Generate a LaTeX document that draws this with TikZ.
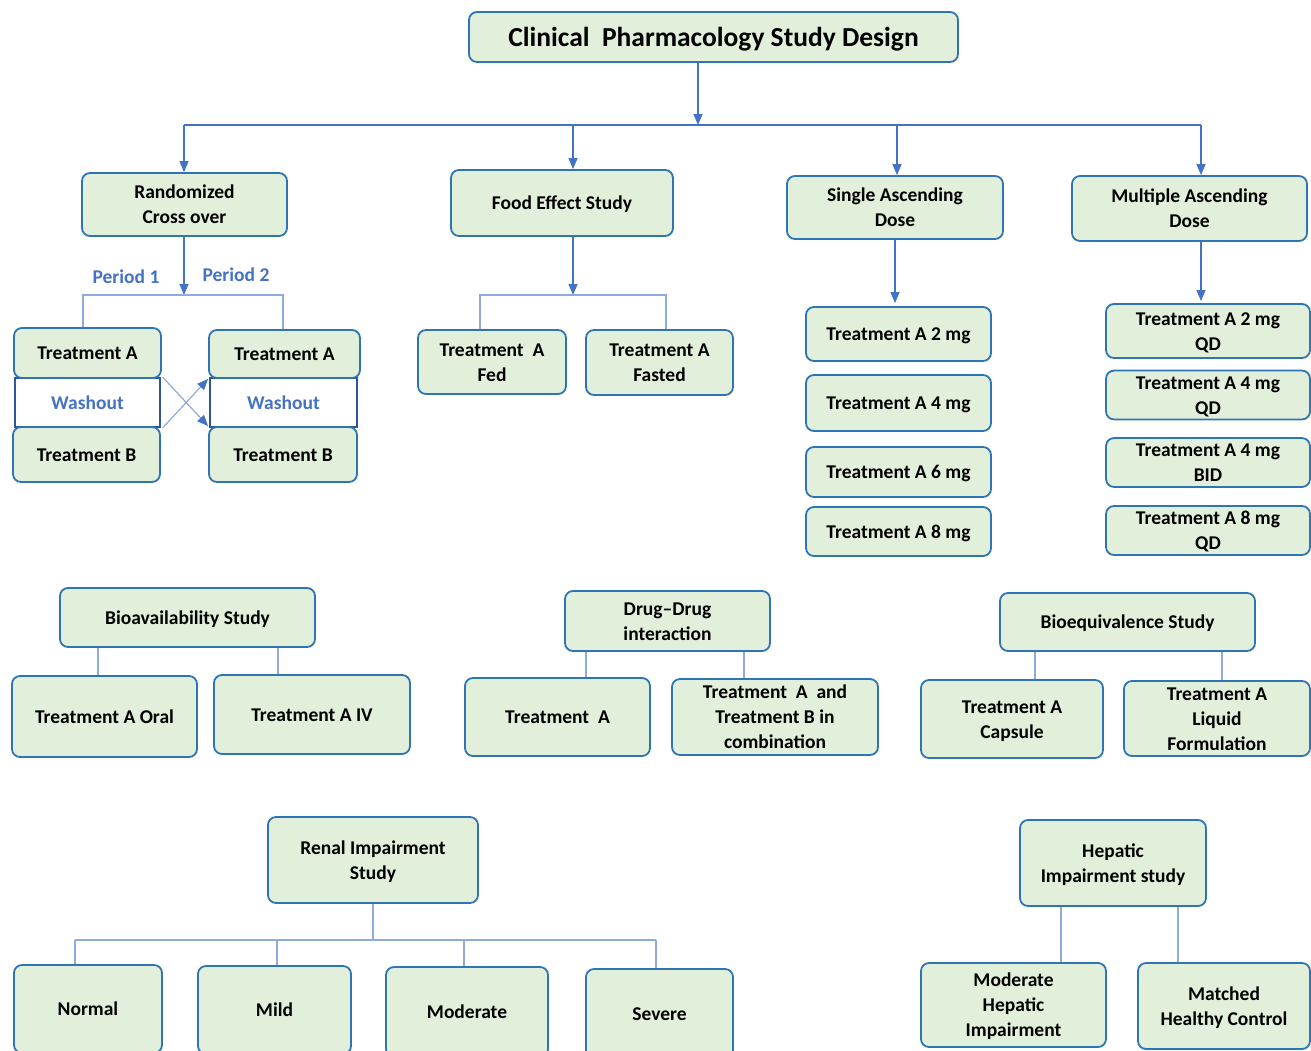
\documentclass[tikz,border=0pt]{standalone}
\usepackage{fontspec}
\setmainfont{Carlito}
\usetikzlibrary{arrows.meta,calc}
\definecolor{boxfill}{HTML}{E2EFDA}
\definecolor{boxline}{HTML}{2E75B6}
\definecolor{conn}{HTML}{4472C4}
\definecolor{connlight}{HTML}{8FAADC}
\definecolor{washline}{HTML}{2F5597}
\newcommand\offstrut{\rule[-5.25bp]{0pt}{23.85bp}}
\newcommand\offstrutT{\rule[-7.4bp]{0pt}{33.6bp}}
\tikzset{
 box/.style={draw=boxline, line width=1.8bp, fill=boxfill, rounded corners=8bp, align=center,
   font=\bfseries\fontsize{19.5bp}{25bp}\selectfont, inner sep=0pt},
 titlebox/.style={box, font=\bfseries\fontsize{27.5bp}{32bp}\selectfont},
 wash/.style={draw=washline, line width=1.5bp, fill=white, text=conn,
   font=\bfseries\fontsize{19.5bp}{25bp}\selectfont, inner sep=0pt},
 plabel/.style={text=conn, font=\bfseries\fontsize{19.5bp}{25bp}\selectfont, inner sep=0pt},
 ln/.style={draw=conn, line width=1.2bp},
 lnl/.style={draw=connlight, line width=1.4bp},
 arr/.style={ln, -{Triangle[width=9bp,length=11bp]}},
 crs/.style={draw=connlight, line width=1.2bp, -{Triangle[width=9bp,length=11bp,color=conn]}}
}
\newcommand\bxx[7][box]{\node[#1, minimum width=#5bp, minimum height=#6bp] (#2) at (#3,#4) {\offstrut#7\offstrut};}
\begin{document}
\begin{tikzpicture}[x=1bp,y=-1bp]
\useasboundingbox (0,0) rectangle (1311,1050);
\clip (0,0) rectangle (1311,1050);
\fill[white] (0,0) rectangle (1311,1050);

% ---- level 0 / 1
\node[titlebox, minimum width=489bp, minimum height=50bp] (title) at (713.5,37)
  {\offstrutT Clinical\ \ Pharmacology Study Design\offstrutT};
\bxx{rco}{184.5}{204.5}{205}{63}{Randomized\\Cross over}
\bxx{fes}{562}{203}{222}{66}{Food Effect Study}
\bxx{sad}{895}{207.5}{216}{63}{Single Ascending\\Dose}
\bxx{mad}{1189.5}{208.5}{235}{65}{Multiple Ascending\\Dose}

% ---- crossover
\bxx[wash]{wo1}{87.5}{402.5}{145}{49}{Washout}
\bxx[wash]{wo2}{283.5}{402.5}{147}{49}{Washout}
\bxx{ta1}{87.5}{353}{147}{50}{Treatment A}
\bxx{tb1}{86.5}{454.5}{147}{55}{Treatment B}
\bxx{ta2}{284.5}{354}{151}{48}{Treatment A}
\bxx{tb2}{283}{454.5}{148}{55}{Treatment B}
\node[plabel] (p1) at (126,277) {Period 1};
\node[plabel] (p2) at (236,275) {Period 2};

% ---- food effect
\bxx{fed}{492}{362}{148}{64}{Treatment\ \ A\\Fed}
\bxx{fas}{659.5}{362.5}{147}{65}{Treatment A\\Fasted}

% ---- SAD
\bxx{s2}{898.5}{334}{185}{54}{Treatment A 2 mg}
\bxx{s4}{898.5}{403}{185}{56}{Treatment A 4 mg}
\bxx{s6}{898.5}{472}{185}{50}{Treatment A 6 mg}
\bxx{s8}{898.5}{531.5}{185}{49}{Treatment A 8 mg}

% ---- MAD
\bxx{m2}{1208}{331}{204}{54}{Treatment A 2 mg\\QD}
\bxx{m4}{1208}{395}{204}{48}{Treatment A 4 mg\\QD}
\bxx{mb}{1208}{462.5}{204}{47}{Treatment A 4 mg\\BID}
\bxx{m8}{1208}{530.5}{204}{49}{Treatment A 8 mg\\QD}

% ---- bioavailability
\bxx{bav}{187.5}{617.5}{255}{59}{Bioavailability\ Study}
\bxx{oral}{104.5}{716.5}{185}{81}{Treatment A Oral}
\bxx{iv}{312}{714.5}{196}{79}{Treatment A IV}

% ---- DDI
\bxx{ddi}{667.5}{621}{205}{60}{Drug--Drug\\interaction}
\bxx{dta}{557.5}{717}{185}{78}{Treatment\ \ A}
\bxx{dtab}{775}{717}{206}{76}{Treatment\ \ A\ \ and\\Treatment B in\\combination}

% ---- bioequivalence
\bxx{bes}{1127.5}{622}{255}{58}{Bioequivalence Study}
\bxx{cap}{1012}{719}{182}{78}{Treatment A\\Capsule}
\bxx{liq}{1217}{718.5}{186}{75}{Treatment A\\Liquid\\Formulation}

% ---- renal
\bxx{ren}{373}{860}{210}{86}{Renal Impairment\\Study}
\bxx{nor}{88}{1009}{148}{88}{Normal}
\bxx{mild}{274.5}{1010}{153}{88}{Mild}
\bxx{mod}{467}{1012}{162}{90}{Moderate}
\bxx{sev}{659.5}{1014}{147}{90}{Severe}

% ---- hepatic
\bxx{hep}{1113}{863}{186}{86}{Hepatic\\Impairment study}
\bxx{mhi}{1013.5}{1005}{185}{84}{Moderate\\Hepatic\\Impairment}
\bxx{mhc}{1224}{1006}{172}{86}{Matched\\Healthy Control}

% ================= connectors
\coordinate (j0) at (698,125);
\coordinate (jr) at (184,125);
\coordinate (jf) at (573,125);
\coordinate (js) at (897,125);
\coordinate (jm) at (1201,125);
\draw[arr] (title.south -| j0) -- (j0);
\draw[ln] (jr) -- (jm);
\draw[arr] (jr) -- (jr |- rco.north);
\draw[arr] (jf) -- (jf |- fes.north);
\draw[arr] (js) -- (js |- sad.north);
\draw[arr] (jm) -- (jm |- mad.north);

% crossover
\coordinate (jc) at (184,295);
\coordinate (jcl) at (83,295);
\coordinate (jcr) at (283,295);
\draw[arr] (rco.south -| jc) -- (jc);
\draw[lnl] (jcl |- ta1.north) -- (jcl) -- (jcr) -- (jcr |- ta2.north);
\draw[crs] ([xshift=2bp]wo1.north east) -- (tb2.north west);
\draw[crs] ([xshift=2bp]wo1.south east) -- (ta2.south west);

% food
\coordinate (jfe) at (573,295);
\coordinate (jfl) at (480,295);
\coordinate (jfr) at (666,295);
\draw[arr] (fes.south -| jfe) -- (jfe);
\draw[lnl] (jfl |- fed.north) -- (jfl) -- (jfr) -- (jfr |- fas.north);

% SAD / MAD
\coordinate (sx) at (895,0);
\coordinate (mx) at (1201,0);
\draw[arr, shorten >=3bp] (sx |- sad.south) -- (sx |- s2.north);
\draw[arr, shorten >=2bp] (mx |- mad.south) -- (mx |- m2.north);

% bioavailability
\coordinate (b1) at (98,0);
\coordinate (b2) at (278,0);
\draw[lnl] (b1 |- bav.south) -- (b1 |- oral.north);
\draw[lnl] (b2 |- bav.south) -- (b2 |- iv.north);

% DDI
\coordinate (d1) at (586,0);
\coordinate (d2) at (744,0);
\draw[lnl] (d1 |- ddi.south) -- (d1 |- dta.north);
\draw[lnl] (d2 |- ddi.south) -- (d2 |- dtab.north);

% bioequivalence
\coordinate (e1) at (1035,0);
\coordinate (e2) at (1222,0);
\draw[lnl] (e1 |- bes.south) -- (e1 |- cap.north);
\draw[lnl] (e2 |- bes.south) -- (e2 |- liq.north);

% renal
\coordinate (rj) at (373,940);
\coordinate (r1) at (75,940);
\coordinate (r2) at (277,940);
\coordinate (r3) at (464,940);
\coordinate (r4) at (656,940);
\draw[lnl] (ren.south) -- (rj);
\draw[lnl] (r1) -- (r4);
\draw[lnl] (r1) -- (r1 |- nor.north);
\draw[lnl] (r2) -- (r2 |- mild.north);
\draw[lnl] (r3) -- (r3 |- mod.north);
\draw[lnl] (r4) -- (r4 |- sev.north);

% hepatic
\coordinate (h1) at (1061,0);
\coordinate (h2) at (1178,0);
\draw[lnl] (h1 |- hep.south) -- (h1 |- mhi.north);
\draw[lnl] (h2 |- hep.south) -- (h2 |- mhc.north);
\end{tikzpicture}
\end{document}
